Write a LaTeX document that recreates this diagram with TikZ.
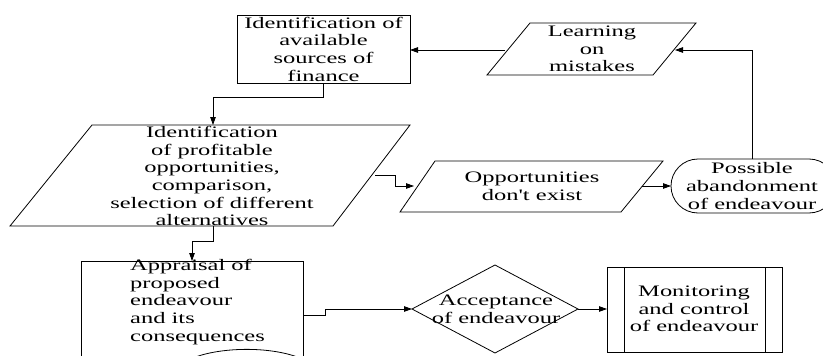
\documentclass[tikz,border=0pt]{standalone}
\usepackage{fontspec}
\newfontfamily\diagfont{Liberation Serif}[FakeStretch=1.53]
\usetikzlibrary{arrows.meta}
\begin{document}
\begin{tikzpicture}[x=1pt,y=-1pt,
  shapeline/.style={draw=black,line width=0.8pt},
  conn/.style={draw=black,line width=0.8pt},
  arr/.style={conn,-{Triangle[length=8pt,width=5.5pt]}},
  txt/.style={inner sep=0pt,align=center,font=\diagfont\fontsize{16}{17.7}\selectfont},
  ltxt/.style={inner sep=0pt,align=left,font=\diagfont\fontsize{16}{17.7}\selectfont}]
\useasboundingbox (0,0) rectangle (823,356);
\fill[white] (0,0) rectangle (823,356);

% Box 1
\draw[shapeline] (237,15) rectangle (410,83);
\node[txt] (finance) at (323.5,49) {Identification of\\available\\sources of\\finance};
\coordinate (finB) at (323,83);
\coordinate (finR) at (410,50);

% Learning on mistakes
\draw[shapeline] (530,23) -- (696,23) -- (653,75) -- (487,75) -- cycle;
\node[txt] (learn) at (592,49) {Learning\\on\\mistakes};
\coordinate (learnL) at (505,50);
\coordinate (learnR) at (675,50);

% Identification of profitable opportunities
\draw[shapeline] (92,125) -- (410,125) -- (333,226) -- (10,226) -- cycle;
\node[txt] (ident) at (212,176) {Identification\\of profitable\\opportunities,\\comparison,\\selection of different\\alternatives};
\coordinate (identT) at (213,125);
\coordinate (identB) at (213,226);
\coordinate (identR) at (375,175);

% Opportunities don't exist
\draw[shapeline] (435,161) -- (663,161) -- (621,212) -- (400,212) -- cycle;
\node[txt] (noopp) at (532,186) {Opportunities\\don't exist};
\coordinate (nooppL) at (414,186);
\coordinate (nooppR) at (642,186);

% Possible abandonment
\draw[shapeline,rounded corners=27pt] (671,159) rectangle (836,213);
\node[txt] (aband) at (752,186) {Possible\\abandonment\\of endeavour};
\coordinate (abandT) at (752,159);
\coordinate (abandL) at (671,186);

% Appraisal
\draw[shapeline] (81,358) -- (81,261) -- (303,261) -- (303,358);
\draw[shapeline] (193,358) .. controls (220,347) and (270,346) .. (300,358);
\node[ltxt,anchor=north west] (apprais) at (130,259) {Appraisal of\\proposed\\endeavour\\and its\\consequences};
\coordinate (appT) at (192,261);
\coordinate (appR) at (303,315);

% Acceptance
\draw[shapeline] (412,309) -- (495,265) -- (578,309) -- (495,353) -- cycle;
\node[txt] (accept) at (496,309) {Acceptance\\of endeavour};
\coordinate (accL) at (412,309);
\coordinate (accR) at (578,309);

% Monitoring
\draw[shapeline] (607,267) rectangle (782,352);
\draw[shapeline] (624,267) -- (624,352);
\draw[shapeline] (765,267) -- (765,352);
\node[txt] (monit) at (694,309) {Monitoring\\and control\\of endeavour};
\coordinate (monL) at (607,309);

% Connectors
\draw[arr] (learnL) -- (finR);
\draw[arr] (abandT) |- (learnR);
\draw[arr] (finB) -- ++(0,14) -| (identT);
\draw[arr] (identR) -- (395,175) |- (nooppL);
\draw[arr] (nooppR) -- (abandL);
\draw[arr] (identB) -- ++(0,15) -| (appT);
\draw[arr] (appR) -- (325,315) |- (accL);
\draw[arr] (accR) -- (monL);
\end{tikzpicture}
\end{document}
